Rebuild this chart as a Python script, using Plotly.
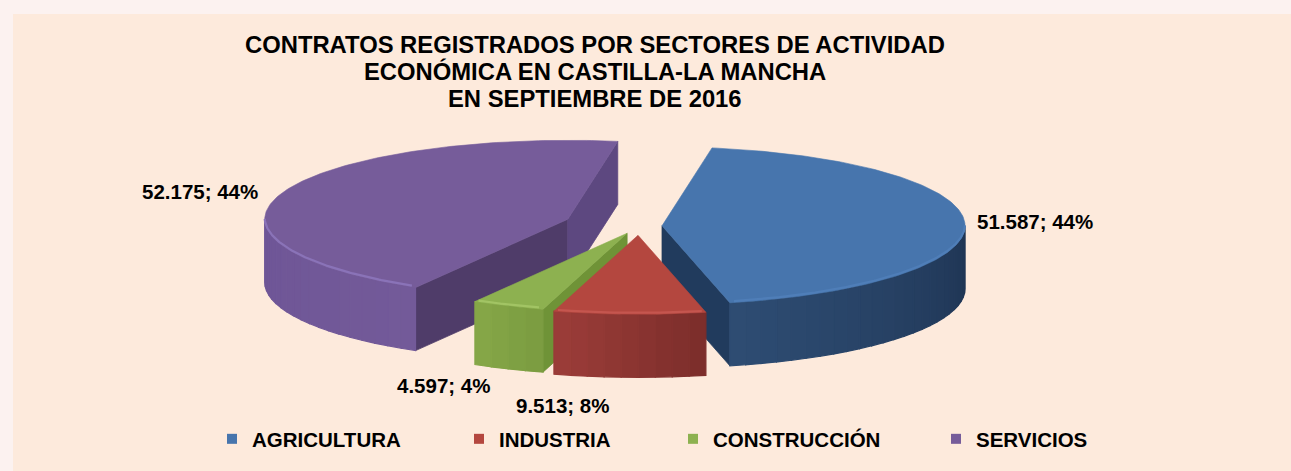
import math
import plotly.graph_objects as go

# ---------------- data ----------------
categories = ["AGRICULTURA", "INDUSTRIA", "CONSTRUCCIÓN", "SERVICIOS"]
contracts = [51587, 9513, 4597, 52175]
title_lines = [
    "CONTRATOS REGISTRADOS POR SECTORES DE ACTIVIDAD",
    "ECONÓMICA EN CASTILLA-LA MANCHA",
    "EN SEPTIEMBRE DE 2016",
]

# ---------------- style ----------------
FONT = "Liberation Sans, Arial, sans-serif"
W, H = 1291, 471
top_colors = ["#4775AD", "#B4473F", "#8DB150", "#765C9A"]
rim_colors = ["#4F7EB8", "#C5564F", "#A2C464", "#8A73B8"]
wall_left = ["#2E4C73", "#9C3D39", "#86A848", "#6E5596"]
wall_right = ["#1E3452", "#7B2D2A", "#7A9B40", "#735A99"]
side_start = ["#213B5D", "#8A3431", "#6F9337", "#4F3C69"]
side_end = ["#213B5D", "#8A3431", "#6F9337", "#5D4880"]
pulls = [0.076, 0.118, 0.10, 0.25]
label_dx = [70, -67, -65, -83]
label_dy = [-2, 28, 17, -1]
legend_left_px = [212, 459, 673, 936]

CX, CY = 639, 226          # pie centre on the page
RX, RY = 303, 79           # ellipse radii
DEPTH = 63                 # thickness of the 3-D pie
START = 9.5                # first slice angle (deg, clockwise from top)


def rim(cx, cy, th):
    r = math.radians(th)
    return cx + RX * math.sin(r), cy - RY * math.cos(r)


def arc(cx, cy, a0, a1, dy=0.0, step=1.0):
    n = max(2, int(abs(a1 - a0) / step) + 1)
    pts = [rim(cx, cy, a0 + (a1 - a0) * k / (n - 1)) for k in range(n)]
    return [(x, y + dy) for x, y in pts]


def mix(c1, c2, t):
    a = [int(c1[i:i + 2], 16) for i in (1, 3, 5)]
    b = [int(c2[i:i + 2], 16) for i in (1, 3, 5)]
    return "#%02x%02x%02x" % tuple(round(a[k] + (b[k] - a[k]) * t) for k in range(3))


def poly(pts, color, line_w=0.8):
    xs = [p[0] for p in pts] + [pts[0][0]]
    ys = [p[1] for p in pts] + [pts[0][1]]
    return go.Scatter(x=xs, y=ys, mode="lines", fill="toself", fillcolor=color,
                      line=dict(color=color, width=line_w), hoverinfo="skip",
                      showlegend=False)


total = sum(contracts)
slices = []
acc = START
for i, v in enumerate(contracts):
    span = v / total * 360.0
    a0, a1 = acc, acc + span
    acc = a1
    mid = (a0 + a1) / 2
    cx = CX + pulls[i] * RX * math.sin(math.radians(mid))
    cy = CY - pulls[i] * RY * math.cos(math.radians(mid))
    slices.append(dict(i=i, a0=a0, a1=a1, mid=mid, cx=cx, cy=cy))

fig = go.Figure()

# draw back slices first
for s in sorted(slices, key=lambda d: d["cy"]):
    i, a0, a1, cx, cy = s["i"], s["a0"], s["a1"], s["cx"], s["cy"]
    # radial side walls
    for edge, normal, col in ((a0, a0 - 90, side_start[i]), (a1, a1 + 90, side_end[i])):
        if math.cos(math.radians(normal)) < 0:
            rx_, ry_ = rim(cx, cy, edge)
            fig.add_trace(poly([(cx, cy), (rx_, ry_), (rx_, ry_ + DEPTH), (cx, cy + DEPTH)], col))
    # curved outer wall (front part only)
    v0, v1 = max(a0, 90.0), min(a1, 270.0)
    if v1 > v0:
        nseg = max(1, int((v1 - v0) / 3))
        for k in range(nseg):
            b0 = v0 + (v1 - v0) * k / nseg
            b1 = v0 + (v1 - v0) * (k + 1) / nseg
            t = 1 - ((b0 + b1) / 2 - v0) / (v1 - v0)
            col = mix(wall_left[i], wall_right[i], t)
            top = arc(cx, cy, b0, b1, 0, 0.5)
            bot = arc(cx, cy, b1, b0, DEPTH, 0.5)
            fig.add_trace(poly(top + bot, col, 1.2))
    # top face
    fig.add_trace(poly([(cx, cy)] + arc(cx, cy, a0, a1), top_colors[i], 0.6))
    # bevel highlight along the visible front rim
    if v1 > v0:
        hl = arc(cx, cy, v0 + 0.8, v1 - 0.8, -1.5, 0.5)
        fig.add_trace(go.Scatter(x=[p[0] for p in hl], y=[p[1] for p in hl], mode="lines",
                                 line=dict(color=rim_colors[i], width=2.2),
                                 hoverinfo="skip", showlegend=False))

# data labels
for s in slices:
    i = s["i"]
    lx, ly = rim(s["cx"], s["cy"], s["mid"])
    if math.cos(math.radians(s["mid"])) < -0.7:
        ly += DEPTH
    pct = round(contracts[i] / total * 100)
    txt = "{:,}".format(contracts[i]).replace(",", ".") + "; " + str(pct) + "%"
    fig.add_annotation(x=lx + label_dx[i], y=ly + label_dy[i], text=txt, showarrow=False,
                       xanchor="center", yanchor="middle",
                       font=dict(family=FONT, size=20.5, color="#000000", weight="bold"))

# legend entries (one legend box per entry, to match the reference spacing)
legend_layout = {}
for i, name in enumerate(categories):
    key = "legend" if i == 0 else "legend%d" % (i + 1)
    fig.add_trace(go.Scatter(x=[None], y=[None], mode="markers", name=name,
                             marker=dict(symbol="square", size=10, color=top_colors[i]),
                             hoverinfo="skip", legend=key))
    legend_layout[key] = dict(orientation="h", x=legend_left_px[i] / W, xanchor="left",
                              y=1 - 439 / H, yanchor="middle", bgcolor="rgba(0,0,0,0)",
                              font=dict(family=FONT, size=20.5, color="#000000", weight="bold"))

# title
for k, line in enumerate(title_lines):
    fig.add_annotation(x=595, y=44 + 27 * k, text=line, showarrow=False,
                       xanchor="center", yanchor="middle",
                       font=dict(family=FONT, size=23.8, color="#000000", weight="bold"))

fig.update_layout(
    width=W, height=H,
    margin=dict(l=0, r=0, t=0, b=0),
    paper_bgcolor="#FCF2F0",
    plot_bgcolor="rgba(0,0,0,0)",
    xaxis=dict(range=[0, W], visible=False, fixedrange=True),
    yaxis=dict(range=[H, 0], visible=False, fixedrange=True),
    shapes=[dict(type="rect", xref="x", yref="y", x0=13, y0=14, x1=W, y1=H,
                 fillcolor="#FDEADC", line=dict(width=0), layer="below")],
    showlegend=True,
    **legend_layout,
)

fig.write_html("out.html", config={"displayModeBar": False},
               post_script="document.body.style.margin='0';document.body.style.overflow='hidden';")
